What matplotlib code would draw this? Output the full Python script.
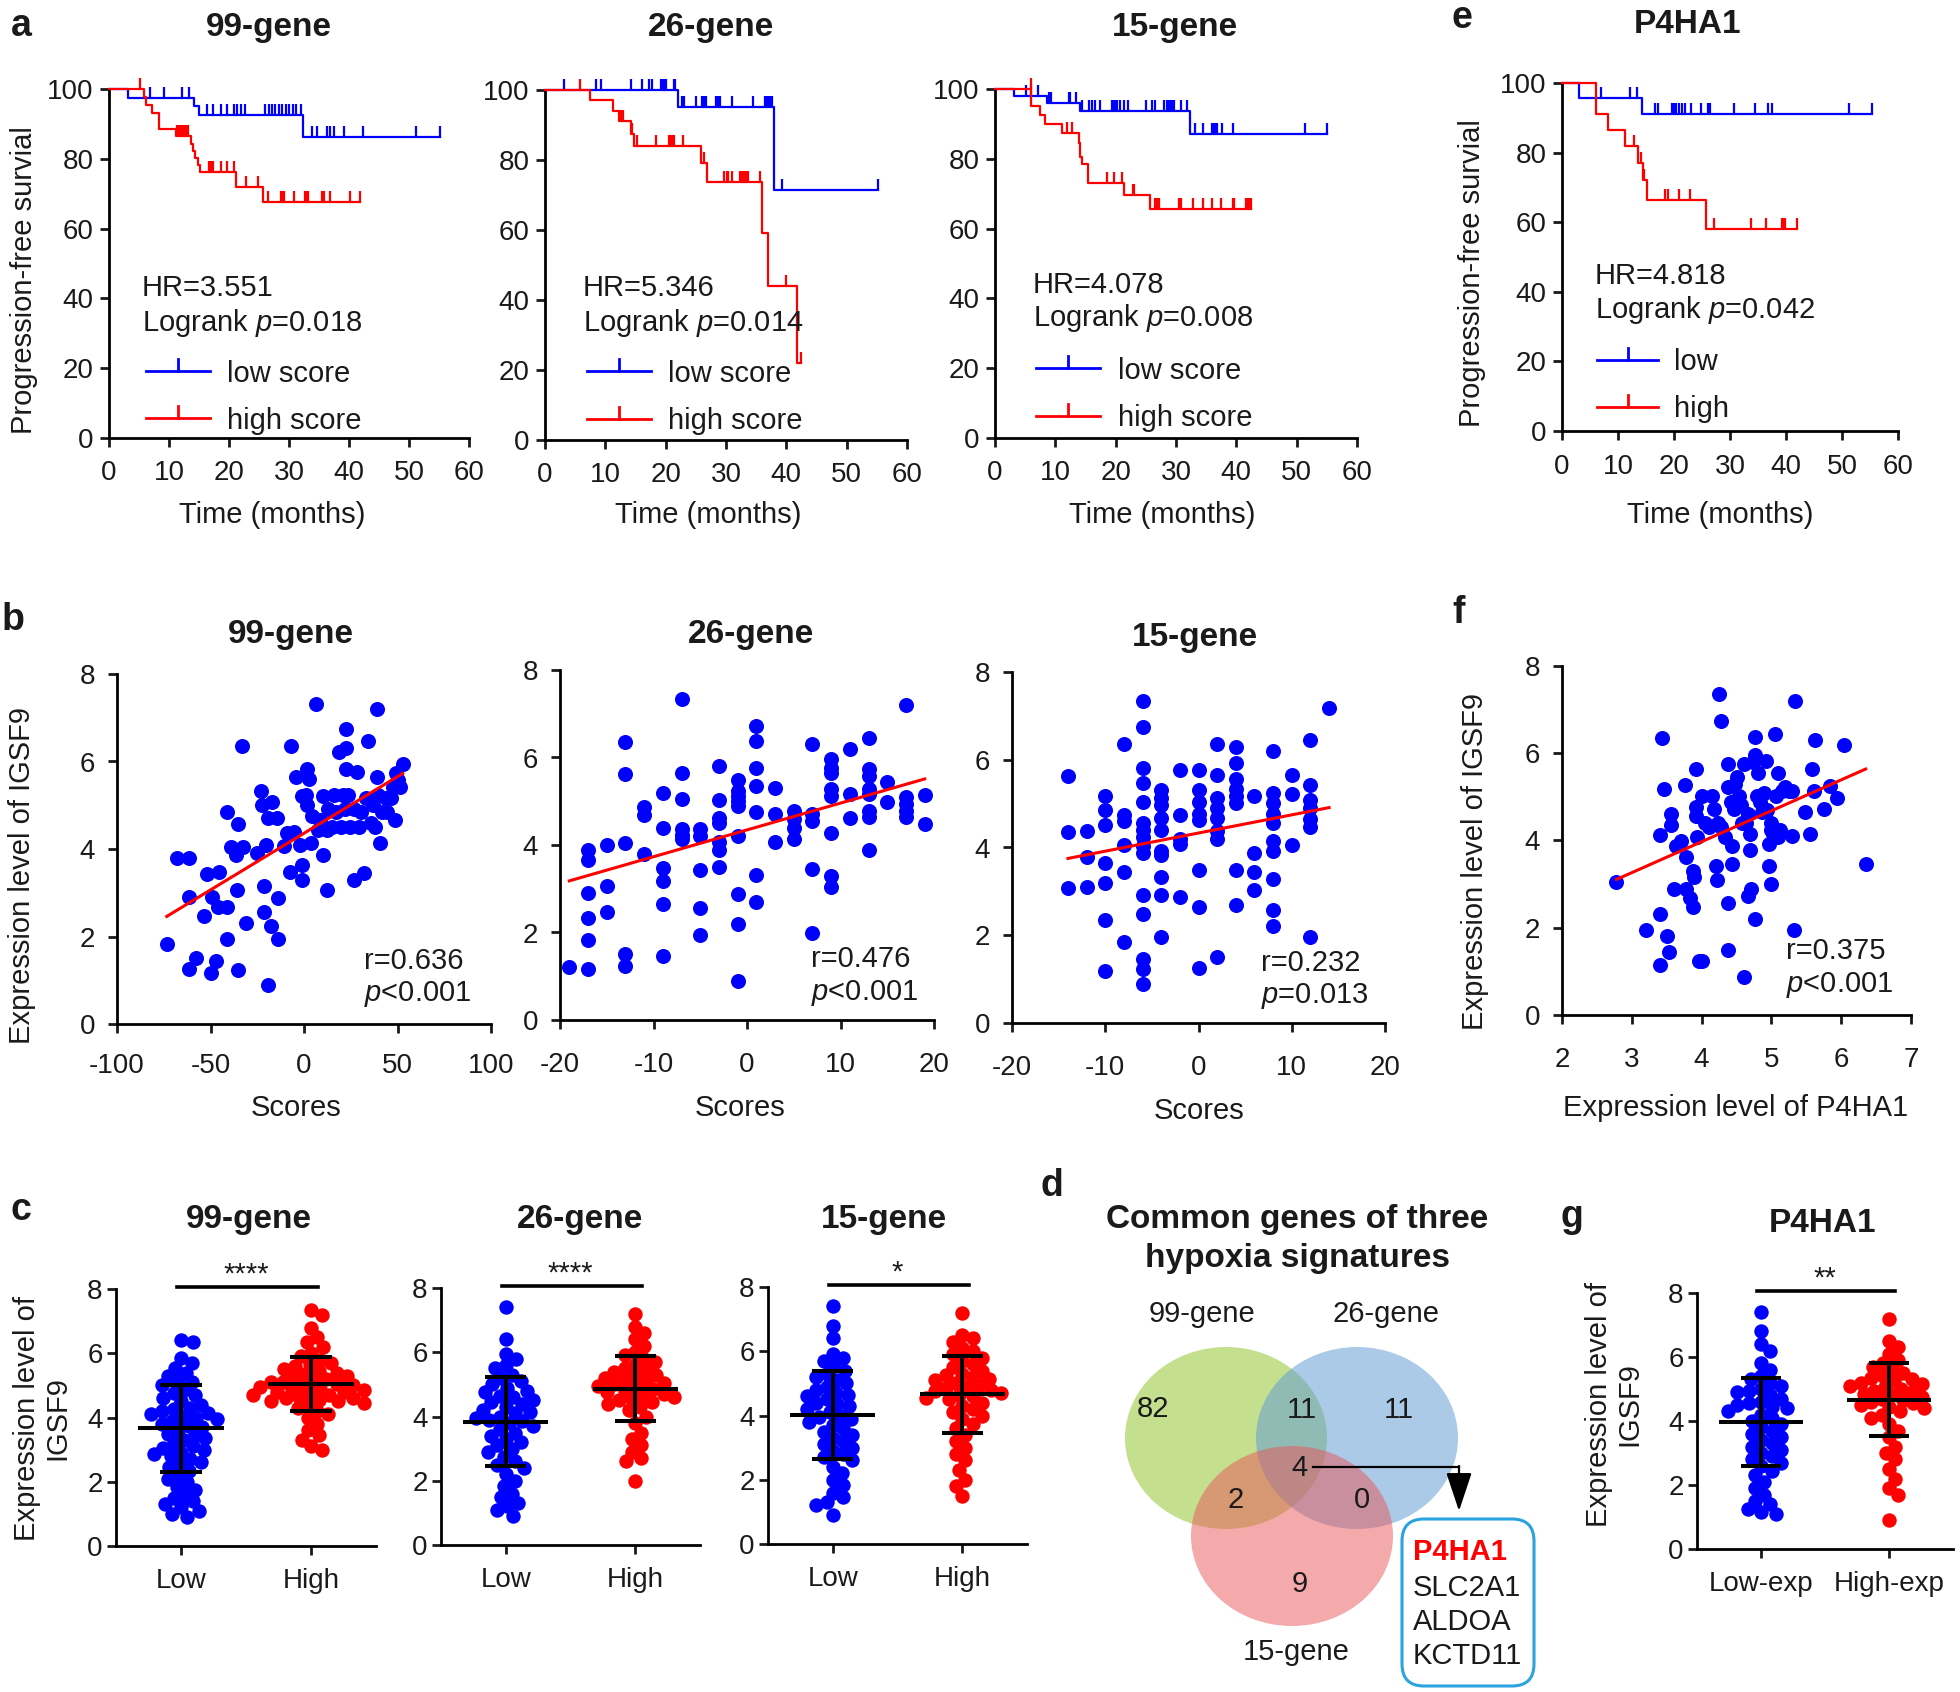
import matplotlib

matplotlib.use("Agg")

import matplotlib.pyplot as plt
import numpy as np
from matplotlib.lines import Line2D
from matplotlib.patches import Ellipse, FancyBboxPatch
from matplotlib.path import Path

plt.rcParams["font.family"] = ["Liberation Sans", "DejaVu Sans"]
plt.rcParams["mathtext.fontset"] = "custom"
plt.rcParams["mathtext.rm"] = "Liberation Sans"
plt.rcParams["mathtext.it"] = "Liberation Sans:italic"
plt.rcParams["axes.unicode_minus"] = False
plt.rcParams["text.color"] = "#1a1a1a"

BLUE = "#0000FF"
RED = "#FF0000"
FS_TICK, FS_TEXT, FS_TITLE, FS_PANEL = 20, 21, 24, 27

# ---------------- a / e : Kaplan-Meier (months, % progression-free) ----------------
KM99_LOW_DROP = [3.1, 14.2, 15.0, 32.4]
KM99_LOW_SURV = [97.5, 95.1, 92.6, 86.2]
KM99_LOW_END = 55.2
KM99_LOW_CENS = [6.9, 9.2, 12.1, 13.3, 16.3, 17.4, 18.6, 19.7, 20.9, 21.4, 22.0, 22.6,
                 26.0, 26.6, 27.2, 27.7, 28.3, 28.9, 29.5, 30.0, 30.6, 31.2, 32.0,
                 33.8, 34.6, 36.3, 36.9, 37.5, 39.2, 42.3, 51.2, 55.2]
KM99_HIGH_DROP = [5.8, 6.2, 7.1, 8.4, 11.1, 13.6, 14.0, 14.4, 14.8, 15.1, 21.1, 25.7]
KM99_HIGH_SURV = [97.7, 95.3, 93.0, 88.5, 86.5, 84.2, 82.1, 80.1, 78.3, 76.2, 71.9, 67.5]
KM99_HIGH_END = 41.9
KM99_HIGH_CENS = [5.1, 11.4, 11.7, 12.0, 12.3, 12.6, 12.9, 13.1, 16.6, 16.8, 17.1, 17.4,
                  18.6, 19.7, 20.9, 22.9, 24.9, 26.5, 28.6, 28.9, 29.2, 30.9, 32.6, 32.9,
                  33.2, 35.5, 35.8, 36.9, 40.1, 41.9]

KM26_LOW_DROP = [22.0, 37.9]
KM26_LOW_SURV = [95.0, 71.3]
KM26_LOW_END = 55.2
KM26_LOW_CENS = [3.1, 8.4, 9.3, 14.2, 16.0, 17.3, 17.7, 19.3, 19.6, 19.9, 20.1, 21.3, 21.6,
                 22.7, 23.0, 25.0, 26.1, 26.4, 26.7, 28.4, 28.7, 29.0, 31.0, 34.4, 36.4,
                 36.7, 37.0, 37.3, 37.6, 39.3, 55.2]
KM26_HIGH_DROP = [7.4, 11.3, 12.3, 14.2, 14.8, 25.9, 26.9, 35.9, 36.9, 41.7]
KM26_HIGH_SURV = [97.0, 94.0, 91.0, 87.5, 84.0, 79.0, 73.6, 59.0, 44.0, 22.0]
KM26_HIGH_END = 42.5
KM26_HIGH_CENS = [5.8, 12.5, 12.8, 13.0, 14.4, 15.3, 18.4, 20.5, 20.8, 21.1, 21.4, 22.9,
                  26.3, 29.6, 30.2, 30.4, 31.0, 32.4, 32.7, 33.0, 33.3, 33.6, 35.6, 40.0, 42.4]

KM15_LOW_DROP = [3.1, 8.6, 14.1, 32.4]
KM15_LOW_SURV = [98.0, 96.0, 93.6, 87.0]
KM15_LOW_END = 55.0
KM15_LOW_CENS = [5.1, 6.0, 7.1, 9.0, 9.3, 12.3, 12.5, 13.5, 14.5, 15.6, 16.0, 16.5, 17.4,
                 19.4, 19.7, 20.0, 20.3, 20.8, 21.4, 22.0, 25.1, 26.0, 26.5, 28.0, 28.5,
                 28.8, 29.1, 29.4, 29.7, 30.8, 31.9, 33.1, 34.5, 35.9, 36.2, 36.5, 36.8,
                 37.6, 39.4, 51.3, 55.0]
KM15_HIGH_DROP = [6.0, 7.4, 8.3, 11.1, 13.9, 14.1, 14.4, 15.4, 21.3, 25.7]
KM15_HIGH_SURV = [95.0, 92.5, 90.0, 87.5, 84.5, 80.5, 78.5, 73.0, 69.5, 65.5]
KM15_HIGH_END = 42.5
KM15_HIGH_CENS = [5.9, 12.0, 12.8, 18.5, 19.7, 21.1, 22.8, 23.1, 26.5, 26.8, 27.1, 30.5,
                  30.8, 32.8, 34.5, 35.9, 37.4, 39.4, 39.6, 41.6, 41.9, 42.2, 42.5]

KMP4_LOW_DROP = [3.1, 14.3]
KMP4_LOW_SURV = [95.8, 91.1]
KMP4_LOW_END = 55.4
KMP4_LOW_CENS = [6.9, 12.2, 13.4, 16.6, 17.1, 19.7, 20.0, 20.3, 20.9, 21.5, 22.0, 23.0,
                 24.9, 26.1, 26.4, 30.8, 34.5, 36.7, 37.5, 51.3, 55.4]
KMP4_HIGH_DROP = [6.0, 8.3, 11.2, 13.6, 14.4, 15.2, 25.7]
KMP4_HIGH_SURV = [91.0, 86.5, 82.0, 77.0, 72.0, 66.5, 58.0]
KMP4_HIGH_END = 41.9
KMP4_HIGH_CENS = [12.8, 14.1, 14.7, 18.4, 19.0, 20.9, 22.9, 27.1, 33.7, 36.4, 39.3, 39.6,
                  39.9, 41.9]

# ---------------- b / f : correlation scatter ----------------
B99_SCORE = [-73.4, -67.7, -61.4, -61.4, -61.4, -57.6, -51.9, -49.0, -45.2, -53.4, -49.6,
             -47.1, -46.1, -41.4, -41.4, -41.4, -38.9, -36.6, -35.6, -35.1, -33.1, -32.8,
             -35.1, -31.2, -25.1, -23.2, -22.3, -21.3, -21.3, -20.3, -17.5, -19.0, -17.1,
             -14.6, -13.7, -13.7, -19.4, -10.8, -8.9, -7.5, -7.0, -5.1, -4.1, -1.2, -1.2,
             -1.2, -2.2, 1.2, 1.6, 1.6, 2.6, 3.5, 4.5, 6.4, 7.4, 8.3, 10.2, 10.2, 12.1, 12.1,
             13.1, 15.0, 16.0, 16.9, 18.8, 19.8, 20.7, 21.7, 22.3, 22.6, 22.6, 23.6, 24.5,
             26.5, 26.5, 28.4, 29.3, 30.3, 32.2, 33.1, 34.1, 36.0, 37.0, 37.9, 38.9, 38.9,
             39.8, 40.8, 41.7, 43.6, 44.6, 46.5, 47.5, 48.4, 49.4, 50.3, 51.3, 52.8]
B99_IGSF9 = [1.84, 3.79, 3.79, 2.90, 1.25, 1.51, 3.43, 2.90, 3.47, 2.47, 1.17, 1.45, 2.68,
             2.68, 1.94, 4.84, 4.04, 3.86, 3.06, 1.23, 6.36, 4.04, 4.57, 2.32, 3.90, 5.33,
             5.00, 3.16, 2.55, 4.10, 2.24, 4.71, 5.08, 4.71, 2.88, 1.94, 0.90, 4.06, 4.36,
             3.47, 6.36, 4.39, 5.65, 3.63, 3.29, 5.20, 4.10, 5.24, 5.82, 5.00, 5.61, 4.14,
             4.76, 7.32, 4.43, 4.67, 3.87, 5.20, 3.06, 4.43, 4.92, 4.51, 5.24, 4.84, 6.22,
             4.51, 5.24, 4.92, 6.31, 6.75, 5.82, 5.24, 4.51, 4.92, 3.29, 5.77, 4.51, 4.84,
             3.45, 5.16, 6.47, 4.59, 5.00, 4.51, 5.65, 7.20, 5.24, 4.14, 4.84, 5.16, 4.84,
             5.16, 5.41, 4.67, 5.73, 5.57, 5.41, 5.94]
B99_FIT = (0.0259, 4.36)  # slope, intercept
B99_STATS = ("r=0.636", "$p$<0.001")

B26_SCORE = [-19,
             -17, -17, -17, -17, -17, -17,
             -15, -15, -15,
             -13, -13, -13, -13, -13,
             -11, -11, -11,
             -9, -9, -9, -9, -9, -9,
             -7, -7, -7, -7, -7, -7,
             -5, -5, -5, -5, -5,
             -3, -3, -3, -3, -3, -3, -3,
             -1, -1, -1, -1, -1, -1, -1, -1, -1,
             1, 1, 1, 1, 1, 1, 1,
             3, 3, 3,
             5, 5, 5, 5,
             7, 7, 7, 7, 7,
             9, 9, 9, 9, 9, 9, 9, 9,
             11, 11, 11,
             13, 13, 13, 13, 13, 13, 13, 13,
             15, 15,
             17, 17, 17, 17, 17,
             19, 19]
B26_IGSF9 = [1.20,
             3.89, 3.65, 2.90, 2.34, 1.83, 1.16,
             4.00, 3.06, 2.47,
             6.36, 5.62, 4.04, 1.51, 1.24,
             4.86, 4.69, 3.80,
             5.18, 4.38, 3.47, 3.18, 2.64, 1.46,
             7.34, 5.65, 5.05, 4.37, 4.22, 4.14,
             4.37, 4.20, 3.43, 2.56, 1.95,
             5.81, 5.02, 4.61, 4.51, 4.06, 3.89, 3.49,
             5.49, 5.24, 5.12, 5.01, 4.90, 4.20, 2.87, 2.20, 0.90,
             6.73, 6.37, 5.77, 5.34, 4.75, 3.31, 2.69,
             5.31, 4.71, 4.07,
             4.77, 4.60, 4.38, 4.14,
             6.30, 4.71, 4.55, 3.44, 1.98,
             5.96, 5.77, 5.65, 5.28, 5.12, 4.28, 3.30, 3.04,
             6.20, 5.16, 4.61,
             6.44, 5.73, 5.57, 5.28, 5.16, 4.77, 4.63, 3.88,
             5.44, 4.98,
             7.20, 5.09, 4.93, 4.77, 4.63,
             5.14, 4.47]
B26_FIT = (0.0613, 4.345)
B26_STATS = ("r=0.476", "$p$<0.001")

B15_SCORE = [-14, -14, -14,
             -12, -12, -12,
             -10, -10, -10, -10, -10, -10, -10,
             -8, -8, -8, -8, -8, -8,
             -6, -6, -6, -6, -6, -6, -6, -6, -6, -6, -6, -6, -6, -6, -6,
             -4, -4, -4, -4, -4, -4, -4, -4, -4, -4,
             -2, -2, -2, -2, -2,
             0, 0, 0, 0, 0, 0, 0, 0,
             2, 2, 2, 2, 2, 2, 2, 2,
             4, 4, 4, 4, 4, 4, 4, 4,
             6, 6, 6, 6,
             8, 8, 8, 8, 8, 8, 8, 8, 8, 8,
             10, 10, 10,
             12, 12, 12, 12, 12, 12, 12,
             14]
B15_IGSF9 = [5.62, 4.36, 3.08,
             4.38, 3.79, 3.11,
             5.17, 4.85, 4.51, 3.64, 3.18, 2.34, 1.18,
             6.35, 4.74, 4.60, 4.06, 3.44, 1.85,
             7.33, 6.74, 5.82, 5.46, 5.03, 4.56, 4.40, 4.24, 4.03, 3.87, 2.91, 2.48, 1.47, 1.22, 0.90,
             5.30, 5.13, 4.97, 4.68, 4.40, 3.91, 3.83, 3.32, 2.91, 1.96,
             5.77, 4.75, 4.20, 4.07, 2.88,
             5.77, 5.32, 5.03, 4.77, 4.63, 3.48, 2.65, 1.25,
             6.35, 5.66, 5.13, 4.89, 4.68, 4.38, 4.20, 1.51,
             6.30, 5.93, 5.56, 5.34, 5.17, 5.01, 3.48, 2.69,
             5.17, 3.87, 3.44, 3.03,
             6.19, 5.25, 5.01, 4.77, 4.56, 4.15, 3.91, 3.28, 2.57, 2.20,
             5.66, 5.23, 4.05,
             6.44, 5.43, 5.09, 4.89, 4.64, 4.46, 1.97,
             7.19]
B15_FIT = (0.0414, 4.33)
B15_STATS = ("r=0.232", "$p$=0.013")

F_P4HA1 = [2.78, 3.20, 3.41, 3.41, 3.43, 3.46, 3.41, 3.50, 3.54, 3.56, 3.56, 3.61, 3.64, 3.71,
           3.76, 3.77, 3.77, 3.84, 3.87, 3.87, 3.89, 3.92, 3.92, 3.92, 3.94, 3.96, 4.00, 4.01,
           4.05, 4.10, 4.15, 4.18, 4.20, 4.22, 4.23, 4.25, 4.28, 4.28, 4.33, 4.38, 4.38, 4.38,
           4.38, 4.42, 4.43, 4.44, 4.46, 4.48, 4.51, 4.53, 4.56, 4.58, 4.61, 4.61, 4.64, 4.66,
           4.66, 4.69, 4.69, 4.71, 4.74, 4.76, 4.76, 4.76, 4.79, 4.81, 4.84, 4.87, 4.89, 4.92,
           4.94, 4.96, 4.97, 4.99, 4.99, 4.99, 5.02, 5.05, 5.07, 5.10, 5.10, 5.12, 5.15, 5.20,
           5.25, 5.30, 5.30, 5.33, 5.34, 5.48, 5.55, 5.58, 5.61, 5.63, 5.76, 5.84, 5.94, 6.04,
           6.35]
F_IGSF9 = [3.05, 1.95, 2.31, 1.15, 6.36, 5.18, 4.13, 1.82, 1.44, 4.61, 4.36, 2.89, 3.87, 3.99,
           5.28, 2.89, 3.62, 2.68, 2.48, 3.30, 3.17, 5.63, 4.77, 4.56, 4.07, 1.23, 1.23, 5.01,
           4.40, 4.32, 5.01, 4.73, 3.42, 3.09, 4.40, 7.35, 6.75, 4.32, 4.07, 5.75, 5.22, 2.56,
           1.50, 4.89, 3.87, 3.46, 4.73, 5.30, 5.46, 5.01, 4.81, 4.40, 0.88, 5.75, 4.40, 2.72,
           4.61, 4.16, 3.79, 2.89, 5.79, 6.38, 5.96, 2.19, 5.01, 5.55, 4.89, 4.65, 5.10, 5.83,
           4.69, 3.42, 3.91, 4.24, 4.40, 3.01, 4.16, 6.45, 5.01, 5.55, 4.07, 4.24, 5.14, 5.22,
           5.14, 5.14, 4.11, 1.95, 7.20, 4.65, 4.14, 5.65, 5.14, 6.30, 4.73, 5.26, 4.97, 6.20,
           3.46]
F_FIT = (0.709, 1.136)
F_STATS = ("r=0.375", "$p$<0.001")

# ---------------- c / g : IGSF9 by group ----------------
C99_LOW = [6.4, 6.35, 5.85, 5.7, 5.55, 5.4, 5.3, 5.15, 5.1, 5.0, 4.85, 4.75, 4.7, 4.6, 4.5,
           4.4, 4.3, 4.25, 4.2, 4.15, 4.1, 4.05, 4.0, 3.95, 3.9, 3.8, 3.75, 3.7, 3.6, 3.5,
           3.45, 3.35, 3.3, 3.2, 3.1, 3.05, 3.0, 2.9, 2.85, 2.8, 2.7, 2.6, 2.55, 2.45, 2.35,
           2.2, 2.1, 2.0, 1.85, 1.75, 1.6, 1.5, 1.4, 1.3, 1.2, 1.1, 1.0, 0.9]
C99_HIGH = [7.35, 7.2, 6.8, 6.5, 6.35, 6.2, 6.0, 5.9, 5.8, 5.7, 5.65, 5.6, 5.5, 5.45, 5.4,
            5.35, 5.3, 5.25, 5.2, 5.15, 5.1, 5.1, 5.05, 5.0, 5.0, 4.95, 4.9, 4.9, 4.85, 4.8,
            4.8, 4.75, 4.7, 4.7, 4.65, 4.6, 4.6, 4.55, 4.5, 4.5, 4.45, 4.4, 4.3, 4.2, 4.1,
            4.0, 3.8, 3.6, 3.45, 3.3, 3.1, 3.0]
C26_LOW = [7.4, 6.4, 5.95, 5.8, 5.6, 5.5, 5.3, 5.2, 5.1, 5.0, 4.9, 4.8, 4.75, 4.65, 4.6, 4.5,
           4.45, 4.4, 4.3, 4.2, 4.15, 4.1, 4.0, 3.95, 3.9, 3.85, 3.8, 3.7, 3.6, 3.5, 3.4, 3.3,
           3.2, 3.1, 3.0, 2.9, 2.75, 2.6, 2.5, 2.4, 2.2, 2.0, 1.85, 1.6, 1.5, 1.3, 1.2, 1.1, 0.9]
C26_HIGH = [7.2, 6.8, 6.6, 6.4, 6.2, 6.0, 5.9, 5.8, 5.7, 5.6, 5.5, 5.45, 5.4, 5.3, 5.25, 5.2,
            5.15, 5.1, 5.05, 5.0, 4.95, 4.9, 4.85, 4.8, 4.75, 4.7, 4.65, 4.6, 4.55, 4.5, 4.45,
            4.4, 4.3, 4.2, 4.0, 3.8, 3.5, 3.3, 3.1, 2.9, 2.7, 2.6, 2.0]
C15_LOW = [7.4, 6.8, 6.4, 5.9, 5.8, 5.7, 5.55, 5.4, 5.3, 5.2, 5.1, 5.0, 4.9, 4.8, 4.7, 4.65,
           4.6, 4.5, 4.4, 4.35, 4.3, 4.2, 4.1, 4.0, 3.95, 3.9, 3.8, 3.7, 3.6, 3.5, 3.4, 3.3,
           3.2, 3.1, 3.0, 2.9, 2.8, 2.7, 2.6, 2.4, 2.2, 2.0, 1.85, 1.6, 1.45, 1.3, 1.2, 0.9]
C15_HIGH = [7.2, 6.5, 6.4, 6.3, 6.1, 6.0, 5.9, 5.8, 5.7, 5.6, 5.5, 5.4, 5.3, 5.25, 5.2, 5.15,
            5.1, 5.0, 4.95, 4.9, 4.85, 4.8, 4.75, 4.7, 4.65, 4.6, 4.55, 4.5, 4.4, 4.3, 4.2,
            4.1, 4.0, 3.9, 3.75, 3.6, 3.4, 3.2, 3.0, 2.8, 2.6, 2.3, 2.0, 1.8, 1.5]
G_LOW = [7.4, 6.8, 6.4, 6.2, 5.8, 5.6, 5.4, 5.3, 5.2, 5.1, 5.0, 4.95, 4.9, 4.8, 4.7, 4.6,
         4.55, 4.5, 4.45, 4.4, 4.3, 4.2, 4.1, 4.0, 3.9, 3.8, 3.7, 3.6, 3.5, 3.4, 3.3, 3.2,
         3.1, 3.0, 2.9, 2.8, 2.7, 2.6, 2.45, 2.3, 2.1, 1.9, 1.7, 1.5, 1.4, 1.25, 1.15, 1.1]
G_HIGH = [7.2, 6.5, 6.3, 6.1, 5.9, 5.8, 5.7, 5.6, 5.5, 5.4, 5.35, 5.3, 5.25, 5.2, 5.15, 5.1,
          5.05, 5.0, 4.95, 4.9, 4.85, 4.8, 4.75, 4.7, 4.65, 4.6, 4.55, 4.5, 4.45, 4.4, 4.3,
          4.2, 4.1, 3.9, 3.7, 3.5, 3.2, 3.0, 2.8, 2.5, 2.2, 1.9, 1.7, 0.9]
# mean, SD
C99_MSD = [(3.66, 1.35), (5.04, 0.84)]
C26_MSD = [(3.84, 1.39), (4.87, 1.00)]
C15_MSD = [(4.02, 1.38), (4.66, 1.19)]
G_MSD = [(3.96, 1.38), (4.67, 1.15)]
C_STARS = ["****", "****", "*", "**"]

# ---------------- d : Venn counts ----------------
VENN_SETS = ["99-gene", "26-gene", "15-gene"]
VENN_COUNTS = {"100": 82, "110": 11, "010": 11, "111": 4, "101": 2, "011": 0, "001": 9}
COMMON_GENES = ["P4HA1", "SLC2A1", "ALDOA", "KCTD11"]

# ---------------------------------------------------------------------------
W, H = 1960, 1692
fig = plt.figure(figsize=(W / 100, H / 100), dpi=100)
TICK = Path([(0, 0), (0, 1)])


def add_ax(x0, y0, x1, y1):
    return fig.add_axes([x0 / W, 1 - y1 / H, (x1 - x0) / W, (y1 - y0) / H])


def ftext(x, y, s, **kw):
    return fig.text(x / W, 1 - y / H, s, **kw)


def style(ax, xpad=7, ypad=4):
    for side in ("top", "right"):
        ax.spines[side].set_visible(False)
    for side in ("left", "bottom"):
        ax.spines[side].set_linewidth(2)
    ax.tick_params(direction="out", length=6.7, width=2, labelsize=FS_TICK, colors="#1a1a1a")
    ax.tick_params(axis="x", pad=xpad)
    ax.tick_params(axis="y", pad=ypad)
    ax.patch.set_alpha(0)


def draw_km(ax, drops, surv, end, cens, color):
    t = np.r_[0.0, drops, end]
    s = np.r_[100.0, surv, surv[-1]]
    ax.step(t, s, where="post", color=color, lw=1.6, clip_on=False, zorder=3)
    idx = np.searchsorted(t, cens, side="right") - 1
    ax.plot(cens, s[idx], ls="none", marker=TICK, ms=16, mew=1.6, mfc="none",
            mec=color, clip_on=False, zorder=3)


def km_key(x0, x1, y, color, label, tx, ty):
    fig.add_artist(Line2D([x0 / W, x1 / W], [1 - y / H] * 2, color=color, lw=2,
                          transform=fig.transFigure))
    xm = (x0 + x1) / 2
    fig.add_artist(Line2D([xm / W] * 2, [1 - y / H, 1 - (y - 12) / H], color=color, lw=2,
                          transform=fig.transFigure))
    ftext(tx, ty, label, fontsize=FS_TEXT, va="baseline")


# ----- row a / e -----
km_panels = [
    ((109, 89, 469, 438), KM99_LOW_DROP, KM99_LOW_SURV, KM99_LOW_END, KM99_LOW_CENS,
     KM99_HIGH_DROP, KM99_HIGH_SURV, KM99_HIGH_END, KM99_HIGH_CENS),
    ((545, 90, 907, 440), KM26_LOW_DROP, KM26_LOW_SURV, KM26_LOW_END, KM26_LOW_CENS,
     KM26_HIGH_DROP, KM26_HIGH_SURV, KM26_HIGH_END, KM26_HIGH_CENS),
    ((995, 89, 1357, 438), KM15_LOW_DROP, KM15_LOW_SURV, KM15_LOW_END, KM15_LOW_CENS,
     KM15_HIGH_DROP, KM15_HIGH_SURV, KM15_HIGH_END, KM15_HIGH_CENS),
    ((1562, 83, 1898, 431), KMP4_LOW_DROP, KMP4_LOW_SURV, KMP4_LOW_END, KMP4_LOW_CENS,
     KMP4_HIGH_DROP, KMP4_HIGH_SURV, KMP4_HIGH_END, KMP4_HIGH_CENS),
]
for box, ld, ls, le, lc, hd, hs, he, hc in km_panels:
    ax = add_ax(*box)
    draw_km(ax, ld, ls, le, lc, BLUE)
    draw_km(ax, hd, hs, he, hc, RED)
    ax.set_xlim(0, 60)
    ax.set_ylim(0, 100)
    ax.set_xticks(np.arange(0, 61, 10))
    ax.set_yticks(np.arange(0, 101, 20))
    style(ax, xpad=9.5, ypad=4.5)

for x, t in [(269, "99-gene"), (711, "26-gene"), (1175, "15-gene")]:
    ftext(x, 36, t, fontsize=FS_TITLE, fontweight="bold", ha="center", va="baseline")
ftext(1687, 33, "P4HA1", fontsize=FS_TITLE, fontweight="bold", ha="center", va="baseline")
ftext(11, 36, "a", fontsize=FS_PANEL, fontweight="bold", va="baseline")
ftext(1451, 0, "e", fontsize=FS_PANEL, fontweight="bold", va="top")

for x, b1, b2, hr, p in [(142, 296, 331, "HR=3.551", "0.018"),
                         (583, 296, 331, "HR=5.346", "0.014"),
                         (1033, 293, 326, "HR=4.078", "0.008"),
                         (1595, 284, 318, "HR=4.818", "0.042")]:
    ftext(x, b1, hr, fontsize=FS_TEXT, va="baseline")
    ftext(x, b2, "Logrank $p$=" + p, fontsize=FS_TEXT, va="baseline")

for x0, x1, yb, yr, tx, tb, tr, lo, hi in [
        (146, 210, 371, 418, 227, 382, 429, "low score", "high score"),
        (587, 651, 371, 419, 668, 382, 429, "low score", "high score"),
        (1036, 1100, 368, 416, 1118, 379, 426, "low score", "high score"),
        (1597, 1658, 360, 407, 1674, 370, 417, "low", "high")]:
    km_key(x0, x1, yb, BLUE, lo, tx, tb)
    km_key(x0, x1, yr, RED, hi, tx, tr)

for x in (272, 708, 1162, 1720):
    ftext(x, 523, "Time (months)", fontsize=FS_TEXT, ha="center", va="baseline")
ftext(24, 280, "Progression-free survial", fontsize=FS_TEXT, rotation=90, ha="center",
      va="center")
ftext(1472, 273, "Progression-free survial", fontsize=FS_TEXT, rotation=90, ha="center",
      va="center")

# ----- row b / f -----
sc_panels = [
    ((117, 674, 491, 1024), B99_SCORE, B99_IGSF9, B99_FIT, B99_STATS, (-100, 100),
     [-100, -50, 0, 50, 100], (364, 969, 1001), 14),
    ((560, 670, 934, 1020), B26_SCORE, B26_IGSF9, B26_FIT, B26_STATS, (-20, 20),
     [-20, -10, 0, 10, 20], (811, 967, 1000), 16),
    ((1012, 672, 1385, 1023), B15_SCORE, B15_IGSF9, B15_FIT, B15_STATS, (-20, 20),
     [-20, -10, 0, 10, 20], (1261, 971, 1003), 16),
    ((1562, 666, 1911, 1015), F_P4HA1, F_IGSF9, F_FIT, F_STATS, (2, 7),
     [2, 3, 4, 5, 6, 7], (1786, 959, 992), 16),
]
for box, xs, ys, fit, stats, xlim, xt, tpos, xpad in sc_panels:
    ax = add_ax(*box)
    n = min(len(xs), len(ys))
    xs = np.asarray(xs[:n], float)
    ys = np.asarray(ys[:n], float)
    ax.scatter(xs, ys, s=117, color=BLUE, linewidths=0, zorder=2, clip_on=False)
    xl = np.array([xs.min(), xs.max()])
    ax.plot(xl, fit[1] + fit[0] * xl, color=RED, lw=2.2, zorder=3)
    ax.set_xlim(*xlim)
    ax.set_ylim(0, 8)
    ax.set_xticks(xt)
    ax.set_yticks([0, 2, 4, 6, 8])
    style(ax, xpad=xpad, ypad=9)
    ftext(tpos[0], tpos[1], stats[0], fontsize=FS_TEXT, va="baseline")
    ftext(tpos[0], tpos[2], stats[1], fontsize=FS_TEXT, va="baseline")

ftext(2, 630, "b", fontsize=FS_PANEL, fontweight="bold", va="baseline")
ftext(1452, 623, "f", fontsize=FS_PANEL, fontweight="bold", va="baseline")
for x, y, t in [(291, 643, "99-gene"), (751, 643, "26-gene"), (1195, 646, "15-gene")]:
    ftext(x, y, t, fontsize=FS_TITLE, fontweight="bold", ha="center", va="baseline")
for x, y in [(296, 1116), (740, 1116), (1199, 1119)]:
    ftext(x, y, "Scores", fontsize=FS_TEXT, ha="center", va="baseline")
ftext(1736, 1116, "Expression level of P4HA1", fontsize=FS_TEXT, ha="center", va="baseline")
ftext(22, 875, "Expression level of IGSF9", fontsize=FS_TEXT, rotation=90, ha="center",
      va="center")
ftext(1475, 862, "Expression level of IGSF9", fontsize=FS_TEXT, rotation=90, ha="center",
      va="center")


# ----- row c / g -----
def swarm_x(vals, centre, xpu, ypu, d=14.5):
    vals = np.asarray(vals, float)
    order = np.argsort(-vals)
    steps = [0.0]
    for k in range(1, 80):
        steps += [k * 1.5, -k * 1.5]
    px = np.empty(0)
    py = np.empty(0)
    out = np.zeros(len(vals))
    lim = (d * 0.75) ** 2
    for i in order:
        yy = vals[i] * ypu
        chosen = 0.0
        for c in steps:
            if px.size == 0 or np.all((c - px) ** 2 + (yy - py) ** 2 >= lim):
                chosen = c
                break
        px = np.append(px, chosen)
        py = np.append(py, yy)
        out[i] = centre + chosen / xpu
    return out


dot_panels = [
    ((116, 1289, 376, 1546), C99_LOW, C99_HIGH, C99_MSD, ["Low", "High"], C_STARS[0]),
    ((441, 1288, 700, 1545), C26_LOW, C26_HIGH, C26_MSD, ["Low", "High"], C_STARS[1]),
    ((768, 1287, 1027, 1544), C15_LOW, C15_HIGH, C15_MSD, ["Low", "High"], C_STARS[2]),
    ((1697, 1293, 1953, 1549), G_LOW, G_HIGH, G_MSD, ["Low-exp", "High-exp"], C_STARS[3]),
]
for box, low, high, msd, labels, stars in dot_panels:
    ax = add_ax(*box)
    xpu = (box[2] - box[0]) / 2.0
    ypu = (box[3] - box[1]) / 8.0
    for centre, vals, color, (m, sd) in [(1, low, BLUE, msd[0]), (2, high, RED, msd[1])]:
        xs = swarm_x(vals, centre, xpu, ypu)
        ax.scatter(xs, vals, s=108, color=color, linewidths=0, zorder=2, clip_on=False)
        ax.plot([centre - 0.33, centre + 0.33], [m, m], color="black", lw=2.9, zorder=4,
                solid_capstyle="butt")
        ax.plot([centre, centre], [m - sd, m + sd], color="black", lw=2.9, zorder=4)
        for yb in (m - sd, m + sd):
            ax.plot([centre - 0.16, centre + 0.16], [yb, yb], color="black", lw=2.9,
                    zorder=4, solid_capstyle="butt")
    ax.plot([0.97, 2.05], [8.05, 8.05], color="black", lw=2.6, clip_on=False)
    ax.text(1.5, 8.2, stars, fontsize=FS_TEXT, ha="center", va="baseline")
    ax.set_xlim(0.5, 2.5)
    ax.set_ylim(0, 8)
    ax.set_xticks([1, 2])
    ax.set_xticklabels(labels)
    ax.set_yticks([0, 2, 4, 6, 8])
    style(ax, xpad=9, ypad=3)

ftext(10, 1220, "c", fontsize=FS_PANEL, fontweight="bold", va="baseline")
for x, t in [(249, "99-gene"), (580, "26-gene"), (884, "15-gene")]:
    ftext(x, 1228, t, fontsize=FS_TITLE, fontweight="bold", ha="center", va="baseline")
ftext(42, 1418, "Expression level of\nIGSF9", fontsize=FS_TEXT, rotation=90, ha="center",
      va="center", multialignment="center", linespacing=1.1)
ftext(1614, 1404, "Expression level of\nIGSF9", fontsize=FS_TEXT, rotation=90, ha="center",
      va="center", multialignment="center", linespacing=1.1)
ftext(1561, 1227, "g", fontsize=FS_PANEL, fontweight="bold", va="baseline")
ftext(1822, 1232, "P4HA1", fontsize=FS_TITLE, fontweight="bold", ha="center", va="baseline")

# ----- d : Venn -----
axv = add_ax(1040, 1170, 1560, 1692)
axv.set_xlim(1040, 1560)
axv.set_ylim(1692, 1170)
axv.axis("off")
axv.add_patch(Ellipse((1226, 1438), 202, 182, facecolor="#9ECA43", alpha=0.6, lw=0))
axv.add_patch(Ellipse((1357, 1438), 202, 182, facecolor="#649FD5", alpha=0.55, lw=0))
axv.add_patch(Ellipse((1292, 1536), 202, 180, facecolor="#EB5559", alpha=0.5, lw=0))
for key, (x, y) in {"100": (1153, 1417), "110": (1302, 1418), "010": (1399, 1418),
                    "111": (1299, 1476), "101": (1236, 1508), "011": (1362, 1508),
                    "001": (1300, 1592)}.items():
    axv.text(x, y, str(VENN_COUNTS[key]), fontsize=FS_TEXT, ha="center", va="baseline")
for name, (x, y) in zip(VENN_SETS, [(1202, 1322), (1386, 1322), (1296, 1660)]):
    axv.text(x, y, name, fontsize=FS_TEXT, ha="center", va="baseline")
axv.plot([1313, 1459], [1467, 1467], color="black", lw=1.6)
axv.annotate("", xy=(1459, 1511), xytext=(1459, 1466),
             arrowprops=dict(arrowstyle="-|>,head_length=1.2,head_width=0.4", lw=1.6,
                             color="black", shrinkA=0, shrinkB=0, mutation_scale=20))
axv.add_patch(FancyBboxPatch((1402, 1519), 132, 167,
                             boxstyle="round,pad=0,rounding_size=22",
                             facecolor="white", edgecolor="#2AA3DF", lw=2.2))
for i, (g, y) in enumerate(zip(COMMON_GENES, [1560, 1596, 1630, 1664])):
    if i == 0:
        axv.text(1413, y, g, fontsize=FS_TEXT, color=RED, fontweight="bold", va="baseline")
    else:
        axv.text(1413, y, g, fontsize=FS_TEXT, va="baseline")

ftext(1041, 1196, "d", fontsize=FS_PANEL, fontweight="bold", va="baseline")
ftext(1297, 1228, "Common genes of three", fontsize=FS_TITLE, fontweight="bold", ha="center",
      va="baseline")
ftext(1297, 1267, "hypoxia signatures", fontsize=FS_TITLE, fontweight="bold", ha="center",
      va="baseline")

fig.savefig("out.png", dpi=100)
